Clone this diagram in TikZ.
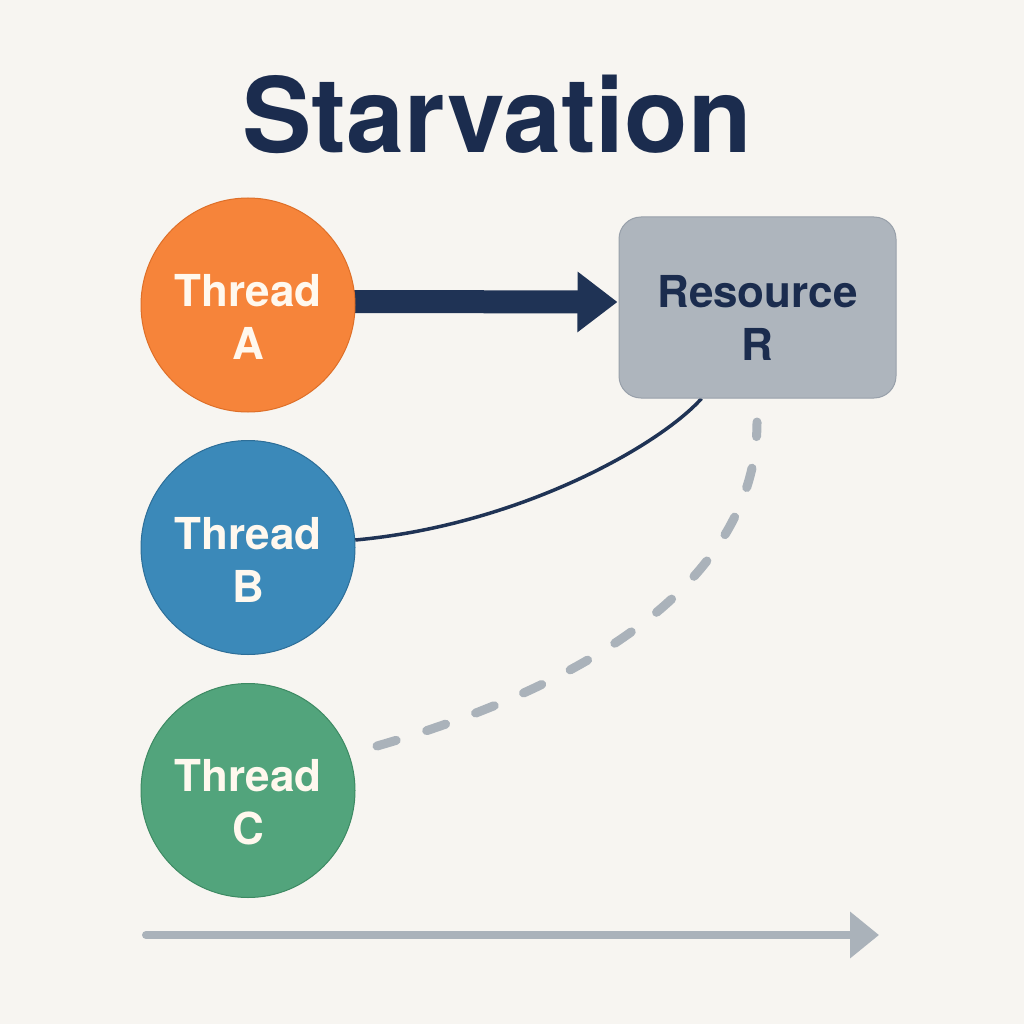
\documentclass[tikz,border=0pt]{standalone}
\usepackage{fontspec}
\setmainfont{TeX Gyre Heros}
\usetikzlibrary{arrows.meta,backgrounds}
\definecolor{bgc}{HTML}{F7F5F1}
\definecolor{navy}{HTML}{1F3355}
\definecolor{titlec}{HTML}{1B2C4E}
\definecolor{orangeA}{HTML}{F6843A}
\definecolor{orangeD}{HTML}{DE6F28}
\definecolor{blueB}{HTML}{3B89B9}
\definecolor{blueD}{HTML}{2D6E98}
\definecolor{greenC}{HTML}{52A47C}
\definecolor{greenD}{HTML}{3D8A63}
\definecolor{boxc}{HTML}{AEB5BD}
\definecolor{boxd}{HTML}{98A0AA}
\definecolor{dashc}{HTML}{AAB2BA}
\definecolor{labelc}{HTML}{FFF8EE}
\tikzset{
  threadnode/.style={circle, minimum size=214pt, inner sep=0pt, line width=1pt},
  threadlabel/.style={text=labelc, align=center, inner sep=0pt,
    font={\fontsize{44pt}{53pt}\selectfont\bfseries}},
  resbox/.style={rectangle, rounded corners=22pt, minimum width=277pt,
    minimum height=181pt, fill=boxc, draw=boxd, line width=1pt, inner sep=0pt},
  reslabel/.style={text=titlec, align=center, inner sep=0pt,
    font={\fontsize{44pt}{53pt}\selectfont\bfseries}},
  titlenode/.style={text=titlec, anchor=base, inner sep=0pt,
    font={\fontsize{104pt}{110pt}\selectfont\bfseries}},
}
\begin{document}
\begin{tikzpicture}[x=1pt,y=-1pt]
\useasboundingbox (0,0) rectangle (1024,1024);
\node[titlenode] (title) at (497,153) {Starvation};
\node[threadnode, fill=orangeA, draw=orangeD] (A) at (248,305) {};
\node[threadnode, fill=blueB, draw=blueD] (B) at (248,547.5) {};
\node[threadnode, fill=greenC, draw=greenD] (C) at (248,790.5) {};
\node[resbox] (R) at (757.5,307.5) {};
\node[threadlabel] (At) at ([yshift=-12pt]A.center) {Thread\\A};
\node[threadlabel] (Bt) at ([yshift=-12pt]B.center) {Thread\\B};
\node[threadlabel] (Ct) at ([yshift=-12pt]C.center) {Thread\\C};
\node[reslabel] (Rt) at ([yshift=-10.5pt]R.center) {Resource\\R};
\coordinate (Cs) at (377,746);
\coordinate (Re) at (757,422);
\coordinate (T0) at (146,935);
\coordinate (T1) at (879,935);
\begin{scope}[on background layer]
\fill[bgc] (0,0) rectangle (1024,1024);
\draw[navy, line width=23pt, -{Triangle[length=40pt,width=58pt]}]
  ([xshift=-4pt,yshift=3.5pt]A.east) -- ([xshift=-1pt,yshift=5.5pt]R.west);
\draw[navy, line width=3.5pt] (B.4) .. controls (520,525) and (660,445) .. ([xshift=-56pt]R.south);
\draw[dashc, line width=9pt, line cap=round, dash pattern=on 20pt off 32pt]
  (Cs) .. controls (627,674) and (757,560) .. (Re);
\draw[dashc, line width=8pt, line cap=round, -{Triangle[length=29pt,width=45pt]}] (T0) -- (T1);
\end{scope}
\end{tikzpicture}
\end{document}
